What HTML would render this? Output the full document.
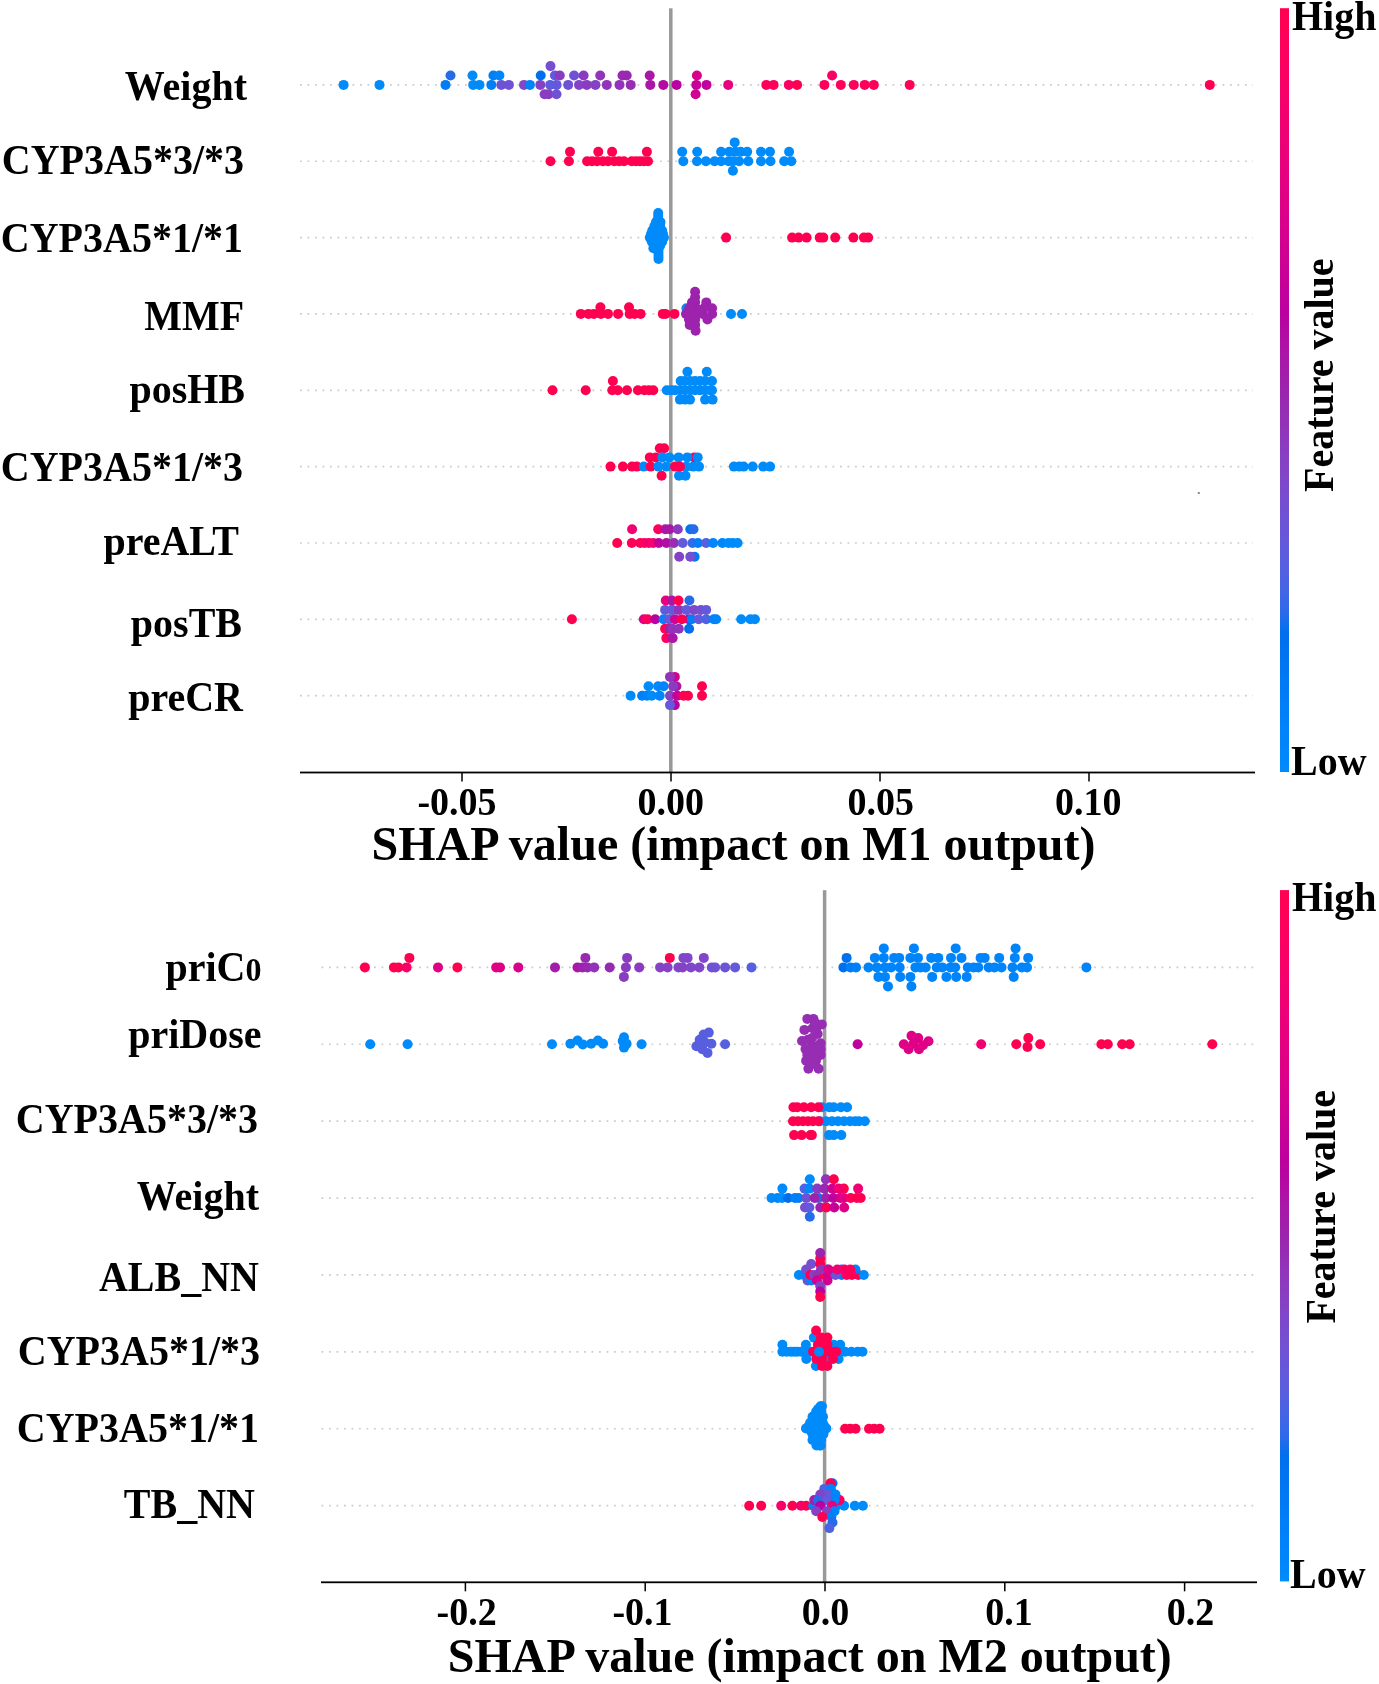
<!DOCTYPE html><html><head><meta charset="utf-8"><style>html,body{margin:0;padding:0;background:#fff;}svg{display:block;will-change:transform;}text{font-family:"Liberation Serif",serif;font-weight:bold;fill:#000;}</style></head><body>
<svg width="1379" height="1684" viewBox="0 0 1379 1684">
<defs><linearGradient id="cb" x1="0" y1="0" x2="0" y2="1"><stop offset="0.0000" stop-color="#ff0051"/><stop offset="0.0303" stop-color="#ff0058"/><stop offset="0.0606" stop-color="#fd005f"/><stop offset="0.0909" stop-color="#fa0065"/><stop offset="0.1212" stop-color="#f6006c"/><stop offset="0.1515" stop-color="#f10072"/><stop offset="0.1818" stop-color="#ec0078"/><stop offset="0.2121" stop-color="#e7007e"/><stop offset="0.2424" stop-color="#e10084"/><stop offset="0.2727" stop-color="#db008a"/><stop offset="0.3030" stop-color="#d40090"/><stop offset="0.3333" stop-color="#cd0095"/><stop offset="0.3636" stop-color="#c5009a"/><stop offset="0.3939" stop-color="#bc009f"/><stop offset="0.4242" stop-color="#b30aa3"/><stop offset="0.4545" stop-color="#aa17a7"/><stop offset="0.4848" stop-color="#a01fab"/><stop offset="0.5152" stop-color="#9829b1"/><stop offset="0.5455" stop-color="#9233b9"/><stop offset="0.5758" stop-color="#8a3cc0"/><stop offset="0.6061" stop-color="#8244c7"/><stop offset="0.6364" stop-color="#794cce"/><stop offset="0.6667" stop-color="#6f52d4"/><stop offset="0.6970" stop-color="#6459da"/><stop offset="0.7273" stop-color="#575fdf"/><stop offset="0.7576" stop-color="#4664e4"/><stop offset="0.7879" stop-color="#306ae9"/><stop offset="0.8182" stop-color="#006fed"/><stop offset="0.8485" stop-color="#0074f0"/><stop offset="0.8788" stop-color="#0079f3"/><stop offset="0.9091" stop-color="#007ef6"/><stop offset="0.9394" stop-color="#0082f8"/><stop offset="0.9697" stop-color="#0086fa"/><stop offset="1.0000" stop-color="#008bfb"/><stop offset="1" stop-color="#008bfb"/></linearGradient></defs>
<line x1="300" y1="84.9" x2="1253" y2="84.9" stroke="#cccccc" stroke-width="1.7" stroke-dasharray="1.8 5.7"/>
<line x1="300" y1="161.25" x2="1253" y2="161.25" stroke="#cccccc" stroke-width="1.7" stroke-dasharray="1.8 5.7"/>
<line x1="300" y1="237.6" x2="1253" y2="237.6" stroke="#cccccc" stroke-width="1.7" stroke-dasharray="1.8 5.7"/>
<line x1="300" y1="313.95" x2="1253" y2="313.95" stroke="#cccccc" stroke-width="1.7" stroke-dasharray="1.8 5.7"/>
<line x1="300" y1="390.29999999999995" x2="1253" y2="390.29999999999995" stroke="#cccccc" stroke-width="1.7" stroke-dasharray="1.8 5.7"/>
<line x1="300" y1="466.65" x2="1253" y2="466.65" stroke="#cccccc" stroke-width="1.7" stroke-dasharray="1.8 5.7"/>
<line x1="300" y1="543.0" x2="1253" y2="543.0" stroke="#cccccc" stroke-width="1.7" stroke-dasharray="1.8 5.7"/>
<line x1="300" y1="619.3499999999999" x2="1253" y2="619.3499999999999" stroke="#cccccc" stroke-width="1.7" stroke-dasharray="1.8 5.7"/>
<line x1="300" y1="695.6999999999999" x2="1253" y2="695.6999999999999" stroke="#cccccc" stroke-width="1.7" stroke-dasharray="1.8 5.7"/>
<rect x="669.05" y="8.3" width="3.5" height="764.2" fill="#999999"/>
<circle cx="343.6" cy="84.9" r="5" fill="#008bfb"/>
<circle cx="379.5" cy="84.9" r="5" fill="#008bfb"/>
<circle cx="445.5" cy="84.9" r="5" fill="#007cf5"/>
<circle cx="473.2" cy="84.9" r="5" fill="#008bfb"/>
<circle cx="479.5" cy="84.9" r="5" fill="#008bfb"/>
<circle cx="491.3" cy="84.9" r="5" fill="#007ff7"/>
<circle cx="501.3" cy="84.9" r="5" fill="#6f52d4"/>
<circle cx="508.9" cy="84.9" r="5" fill="#6f52d4"/>
<circle cx="524" cy="84.9" r="5" fill="#8047c9"/>
<circle cx="529.9" cy="84.9" r="5" fill="#0084f9"/>
<circle cx="540.3" cy="84.9" r="5" fill="#8542c5"/>
<circle cx="550.2" cy="84.9" r="5" fill="#5b5ddd"/>
<circle cx="556.6" cy="84.9" r="5" fill="#6459da"/>
<circle cx="568.2" cy="84.9" r="5" fill="#6f52d4"/>
<circle cx="579" cy="84.9" r="5" fill="#8542c5"/>
<circle cx="586.8" cy="84.9" r="5" fill="#8a3cc0"/>
<circle cx="595.4" cy="84.9" r="5" fill="#8542c5"/>
<circle cx="606.8" cy="84.9" r="5" fill="#9233b9"/>
<circle cx="619.5" cy="84.9" r="5" fill="#9233b9"/>
<circle cx="630.7" cy="84.9" r="5" fill="#962db3"/>
<circle cx="650.3" cy="84.9" r="5" fill="#aa17a7"/>
<circle cx="663.3" cy="84.9" r="5" fill="#b30aa3"/>
<circle cx="676.6" cy="84.9" r="5" fill="#b900a0"/>
<circle cx="696.3" cy="84.9" r="5" fill="#c70098"/>
<circle cx="706.5" cy="84.9" r="5" fill="#bf009d"/>
<circle cx="728.2" cy="84.9" r="5" fill="#e9007c"/>
<circle cx="766.3" cy="84.9" r="5" fill="#fe005c"/>
<circle cx="773.6" cy="84.9" r="5" fill="#fe005c"/>
<circle cx="788.8" cy="84.9" r="5" fill="#fb0063"/>
<circle cx="797.1" cy="84.9" r="5" fill="#ff0051"/>
<circle cx="824.4" cy="84.9" r="5" fill="#fe005c"/>
<circle cx="840.8" cy="84.9" r="5" fill="#fe005c"/>
<circle cx="853.8" cy="84.9" r="5" fill="#fe005c"/>
<circle cx="864.7" cy="84.9" r="5" fill="#fe005c"/>
<circle cx="873.8" cy="84.9" r="5" fill="#ff0058"/>
<circle cx="909.7" cy="84.9" r="5" fill="#ff0058"/>
<circle cx="1209.8" cy="84.9" r="5" fill="#ff0051"/>
<circle cx="450.5" cy="75.5" r="5" fill="#266cea"/>
<circle cx="472.5" cy="75.5" r="5" fill="#008bfb"/>
<circle cx="493.4" cy="75.5" r="5" fill="#007ff7"/>
<circle cx="499.4" cy="75.5" r="5" fill="#0086fa"/>
<circle cx="540.7" cy="75.5" r="5" fill="#006fed"/>
<circle cx="554.9" cy="75.5" r="5" fill="#6459da"/>
<circle cx="559.8" cy="75.5" r="5" fill="#8a3cc0"/>
<circle cx="574.1" cy="75.5" r="5" fill="#6f52d4"/>
<circle cx="583.6" cy="75.5" r="5" fill="#8a3cc0"/>
<circle cx="600.2" cy="75.5" r="5" fill="#9233b9"/>
<circle cx="622.5" cy="75.5" r="5" fill="#9829b1"/>
<circle cx="626.7" cy="75.5" r="5" fill="#9829b1"/>
<circle cx="649.7" cy="75.5" r="5" fill="#aa17a7"/>
<circle cx="696.9" cy="75.5" r="5" fill="#d9008c"/>
<circle cx="832.1" cy="75.5" r="5" fill="#fb0063"/>
<circle cx="550.5" cy="66.1" r="5" fill="#764ed0"/>
<circle cx="544.6" cy="94.3" r="5" fill="#8a3cc0"/>
<circle cx="548.6" cy="94.3" r="5" fill="#8a3cc0"/>
<circle cx="556.5" cy="94.3" r="5" fill="#6f52d4"/>
<circle cx="695.6" cy="94.3" r="5" fill="#cf0093"/>
<circle cx="550.5" cy="161.2" r="5" fill="#ff0051"/>
<circle cx="568.9" cy="161.2" r="5" fill="#ff0051"/>
<circle cx="587.1" cy="161.2" r="5" fill="#ff0051"/>
<circle cx="592" cy="161.2" r="5" fill="#ff0051"/>
<circle cx="597" cy="161.2" r="5" fill="#ff0051"/>
<circle cx="602.9" cy="161.2" r="5" fill="#ff0051"/>
<circle cx="608" cy="161.2" r="5" fill="#ff0051"/>
<circle cx="614.3" cy="161.2" r="5" fill="#ff0051"/>
<circle cx="619.2" cy="161.2" r="5" fill="#ff0051"/>
<circle cx="624" cy="161.2" r="5" fill="#ff0051"/>
<circle cx="631.7" cy="161.2" r="5" fill="#ff0051"/>
<circle cx="636" cy="161.2" r="5" fill="#ff0051"/>
<circle cx="640" cy="161.2" r="5" fill="#ff0051"/>
<circle cx="644" cy="161.2" r="5" fill="#ff0051"/>
<circle cx="648" cy="161.2" r="5" fill="#ff0051"/>
<circle cx="570" cy="151.8" r="5" fill="#ff0051"/>
<circle cx="598.3" cy="151.8" r="5" fill="#ff0051"/>
<circle cx="612.1" cy="151.8" r="5" fill="#ff0051"/>
<circle cx="646.9" cy="151.8" r="5" fill="#ff0051"/>
<circle cx="683.3" cy="161.2" r="5" fill="#008bfb"/>
<circle cx="697" cy="161.2" r="5" fill="#008bfb"/>
<circle cx="705.9" cy="161.2" r="5" fill="#008bfb"/>
<circle cx="714.6" cy="161.2" r="5" fill="#008bfb"/>
<circle cx="721.1" cy="161.2" r="5" fill="#008bfb"/>
<circle cx="728.7" cy="161.2" r="5" fill="#008bfb"/>
<circle cx="733" cy="161.2" r="5" fill="#008bfb"/>
<circle cx="739.1" cy="161.2" r="5" fill="#008bfb"/>
<circle cx="748.3" cy="161.2" r="5" fill="#008bfb"/>
<circle cx="761" cy="161.2" r="5" fill="#008bfb"/>
<circle cx="770.5" cy="161.2" r="5" fill="#008bfb"/>
<circle cx="784.2" cy="161.2" r="5" fill="#008bfb"/>
<circle cx="791.3" cy="161.2" r="5" fill="#008bfb"/>
<circle cx="682.2" cy="151.8" r="5" fill="#008bfb"/>
<circle cx="697.2" cy="151.8" r="5" fill="#008bfb"/>
<circle cx="721.1" cy="151.8" r="5" fill="#008bfb"/>
<circle cx="729.3" cy="151.8" r="5" fill="#008bfb"/>
<circle cx="735.3" cy="151.8" r="5" fill="#008bfb"/>
<circle cx="740.7" cy="151.8" r="5" fill="#008bfb"/>
<circle cx="747.2" cy="151.8" r="5" fill="#008bfb"/>
<circle cx="761" cy="151.8" r="5" fill="#008bfb"/>
<circle cx="770" cy="151.8" r="5" fill="#008bfb"/>
<circle cx="789.1" cy="151.8" r="5" fill="#008bfb"/>
<circle cx="734.7" cy="142.4" r="5" fill="#008bfb"/>
<circle cx="732.9" cy="170.7" r="5" fill="#008bfb"/>
<circle cx="658.2" cy="213" r="5" fill="#008bfb"/>
<circle cx="658.2" cy="216" r="5" fill="#008bfb"/>
<circle cx="658.2" cy="219" r="5" fill="#008bfb"/>
<circle cx="658.2" cy="222" r="5" fill="#008bfb"/>
<circle cx="656" cy="222" r="5" fill="#008bfb"/>
<circle cx="658.5" cy="222" r="5" fill="#008bfb"/>
<circle cx="660.5" cy="222" r="5" fill="#008bfb"/>
<circle cx="654.4" cy="226" r="5" fill="#008bfb"/>
<circle cx="656.9" cy="226" r="5" fill="#008bfb"/>
<circle cx="659.4" cy="226" r="5" fill="#008bfb"/>
<circle cx="660.1" cy="226" r="5" fill="#008bfb"/>
<circle cx="652.3" cy="230.5" r="5" fill="#008bfb"/>
<circle cx="654.8" cy="230.5" r="5" fill="#008bfb"/>
<circle cx="657.3" cy="230.5" r="5" fill="#008bfb"/>
<circle cx="659.8" cy="230.5" r="5" fill="#008bfb"/>
<circle cx="662.1" cy="230.5" r="5" fill="#008bfb"/>
<circle cx="651" cy="234" r="5" fill="#008bfb"/>
<circle cx="653.5" cy="234" r="5" fill="#008bfb"/>
<circle cx="656.0" cy="234" r="5" fill="#008bfb"/>
<circle cx="658.5" cy="234" r="5" fill="#008bfb"/>
<circle cx="661.0" cy="234" r="5" fill="#008bfb"/>
<circle cx="663" cy="234" r="5" fill="#008bfb"/>
<circle cx="649.8" cy="237.6" r="5" fill="#008bfb"/>
<circle cx="652.3" cy="237.6" r="5" fill="#008bfb"/>
<circle cx="654.8" cy="237.6" r="5" fill="#008bfb"/>
<circle cx="657.3" cy="237.6" r="5" fill="#008bfb"/>
<circle cx="659.8" cy="237.6" r="5" fill="#008bfb"/>
<circle cx="662.3" cy="237.6" r="5" fill="#008bfb"/>
<circle cx="663.9" cy="237.6" r="5" fill="#008bfb"/>
<circle cx="651.8" cy="241.7" r="5" fill="#008bfb"/>
<circle cx="654.3" cy="241.7" r="5" fill="#008bfb"/>
<circle cx="656.8" cy="241.7" r="5" fill="#008bfb"/>
<circle cx="659.3" cy="241.7" r="5" fill="#008bfb"/>
<circle cx="661.8" cy="241.7" r="5" fill="#008bfb"/>
<circle cx="662.1" cy="241.7" r="5" fill="#008bfb"/>
<circle cx="653.9" cy="245.8" r="5" fill="#008bfb"/>
<circle cx="656.4" cy="245.8" r="5" fill="#008bfb"/>
<circle cx="658.9" cy="245.8" r="5" fill="#008bfb"/>
<circle cx="660.1" cy="245.8" r="5" fill="#008bfb"/>
<circle cx="658.5" cy="250" r="5" fill="#008bfb"/>
<circle cx="658.5" cy="253" r="5" fill="#008bfb"/>
<circle cx="658.5" cy="256" r="5" fill="#008bfb"/>
<circle cx="658.5" cy="259" r="5" fill="#008bfb"/>
<circle cx="653.4" cy="248.3" r="5" fill="#008bfb"/>
<circle cx="726.1" cy="237.6" r="5" fill="#ff0051"/>
<circle cx="792.1" cy="237.6" r="5" fill="#ff0051"/>
<circle cx="798.6" cy="237.6" r="5" fill="#ff0051"/>
<circle cx="806.6" cy="237.6" r="5" fill="#ff0051"/>
<circle cx="819.7" cy="237.6" r="5" fill="#ff0051"/>
<circle cx="823.3" cy="237.6" r="5" fill="#ff0051"/>
<circle cx="835.2" cy="237.6" r="5" fill="#ff0051"/>
<circle cx="853.4" cy="237.6" r="5" fill="#ff0051"/>
<circle cx="863.9" cy="237.6" r="5" fill="#ff0051"/>
<circle cx="868.2" cy="237.6" r="5" fill="#ff0051"/>
<circle cx="580.8" cy="313.9" r="5" fill="#ff0051"/>
<circle cx="588.4" cy="313.9" r="5" fill="#ff0051"/>
<circle cx="593.8" cy="313.9" r="5" fill="#ff0051"/>
<circle cx="600.9" cy="313.9" r="5" fill="#ff0051"/>
<circle cx="608" cy="313.9" r="5" fill="#ff0051"/>
<circle cx="618.1" cy="313.9" r="5" fill="#ff0051"/>
<circle cx="629.7" cy="313.9" r="5" fill="#ff0051"/>
<circle cx="634.6" cy="313.9" r="5" fill="#ff0051"/>
<circle cx="640.6" cy="313.9" r="5" fill="#ff0051"/>
<circle cx="662.8" cy="313.9" r="5" fill="#ff0051"/>
<circle cx="665.4" cy="313.9" r="5" fill="#ff0051"/>
<circle cx="674.5" cy="313.9" r="5" fill="#ff0051"/>
<circle cx="600.4" cy="307.2" r="5" fill="#ff0051"/>
<circle cx="629" cy="307.2" r="5" fill="#ff0051"/>
<circle cx="686.4" cy="308.2" r="5" fill="#008bfb"/>
<circle cx="731" cy="314" r="5" fill="#008bfb"/>
<circle cx="742" cy="314" r="5" fill="#008bfb"/>
<circle cx="695.1" cy="291.7" r="5" fill="#9d22ac"/>
<circle cx="695.1" cy="297.3" r="5" fill="#9d22ac"/>
<circle cx="695.1" cy="302.4" r="5" fill="#9d22ac"/>
<circle cx="695.1" cy="308.2" r="5" fill="#9d22ac"/>
<circle cx="695.1" cy="314" r="5" fill="#9d22ac"/>
<circle cx="695.1" cy="319.4" r="5" fill="#9d22ac"/>
<circle cx="695.1" cy="324.9" r="5" fill="#9d22ac"/>
<circle cx="695.6" cy="330.7" r="5" fill="#9d22ac"/>
<circle cx="692" cy="302.4" r="5" fill="#9d22ac"/>
<circle cx="689.3" cy="308.2" r="5" fill="#9d22ac"/>
<circle cx="686" cy="314" r="5" fill="#9d22ac"/>
<circle cx="689" cy="319.4" r="5" fill="#9d22ac"/>
<circle cx="689.7" cy="324.9" r="5" fill="#9d22ac"/>
<circle cx="706.3" cy="302.4" r="5" fill="#9d22ac"/>
<circle cx="712.1" cy="308.2" r="5" fill="#9d22ac"/>
<circle cx="712.1" cy="314" r="5" fill="#9d22ac"/>
<circle cx="707.4" cy="319.4" r="5" fill="#9d22ac"/>
<circle cx="702.7" cy="314" r="5" fill="#9d22ac"/>
<circle cx="704" cy="308.2" r="5" fill="#9d22ac"/>
<circle cx="700" cy="310" r="5" fill="#9d22ac"/>
<circle cx="552.5" cy="390.3" r="5" fill="#ff0051"/>
<circle cx="585.7" cy="390.3" r="5" fill="#ff0051"/>
<circle cx="612.3" cy="390.3" r="5" fill="#ff0051"/>
<circle cx="617.8" cy="390.3" r="5" fill="#ff0051"/>
<circle cx="627" cy="390.3" r="5" fill="#ff0051"/>
<circle cx="637.9" cy="390.3" r="5" fill="#ff0051"/>
<circle cx="644.4" cy="390.3" r="5" fill="#ff0051"/>
<circle cx="649" cy="390.3" r="5" fill="#ff0051"/>
<circle cx="653.3" cy="390.3" r="5" fill="#ff0051"/>
<circle cx="612.9" cy="381.0" r="5" fill="#ff0051"/>
<circle cx="666.8" cy="390.3" r="5" fill="#008bfb"/>
<circle cx="671" cy="390.3" r="5" fill="#008bfb"/>
<circle cx="675" cy="390.3" r="5" fill="#008bfb"/>
<circle cx="680" cy="390.3" r="5" fill="#008bfb"/>
<circle cx="685" cy="390.3" r="5" fill="#008bfb"/>
<circle cx="690" cy="390.3" r="5" fill="#008bfb"/>
<circle cx="695" cy="390.3" r="5" fill="#008bfb"/>
<circle cx="700" cy="390.3" r="5" fill="#008bfb"/>
<circle cx="705" cy="390.3" r="5" fill="#008bfb"/>
<circle cx="710" cy="390.3" r="5" fill="#008bfb"/>
<circle cx="712" cy="390.3" r="5" fill="#008bfb"/>
<circle cx="680.7" cy="381.0" r="5" fill="#008bfb"/>
<circle cx="685" cy="381.0" r="5" fill="#008bfb"/>
<circle cx="690" cy="381.0" r="5" fill="#008bfb"/>
<circle cx="695" cy="381.0" r="5" fill="#008bfb"/>
<circle cx="700" cy="381.0" r="5" fill="#008bfb"/>
<circle cx="705" cy="381.0" r="5" fill="#008bfb"/>
<circle cx="712" cy="381.0" r="5" fill="#008bfb"/>
<circle cx="687.4" cy="371.7" r="5" fill="#008bfb"/>
<circle cx="706.8" cy="371.7" r="5" fill="#008bfb"/>
<circle cx="679.9" cy="399.6" r="5" fill="#008bfb"/>
<circle cx="685" cy="399.6" r="5" fill="#008bfb"/>
<circle cx="690" cy="399.6" r="5" fill="#008bfb"/>
<circle cx="705.1" cy="399.6" r="5" fill="#008bfb"/>
<circle cx="712.6" cy="399.6" r="5" fill="#008bfb"/>
<circle cx="694.2" cy="457.4" r="5" fill="#ff0051"/>
<circle cx="610.5" cy="466.6" r="5" fill="#ff0051"/>
<circle cx="622.9" cy="466.6" r="5" fill="#ff0051"/>
<circle cx="632" cy="466.6" r="5" fill="#ff0051"/>
<circle cx="636.8" cy="466.6" r="5" fill="#ff0051"/>
<circle cx="643.7" cy="466.6" r="5" fill="#008bfb"/>
<circle cx="650.7" cy="466.6" r="5" fill="#ff0051"/>
<circle cx="649.8" cy="457.4" r="5" fill="#ff0051"/>
<circle cx="655.9" cy="457.4" r="5" fill="#ff0051"/>
<circle cx="659.8" cy="448.2" r="5" fill="#ff0051"/>
<circle cx="664.2" cy="448.2" r="5" fill="#ff0051"/>
<circle cx="661.6" cy="475.8" r="5" fill="#ff0051"/>
<circle cx="658.5" cy="466.6" r="5" fill="#008bfb"/>
<circle cx="666.4" cy="466.6" r="5" fill="#008bfb"/>
<circle cx="686.4" cy="466.6" r="5" fill="#008bfb"/>
<circle cx="693.3" cy="466.6" r="5" fill="#008bfb"/>
<circle cx="699" cy="466.6" r="5" fill="#008bfb"/>
<circle cx="733.9" cy="466.6" r="5" fill="#008bfb"/>
<circle cx="739.3" cy="466.6" r="5" fill="#008bfb"/>
<circle cx="743.7" cy="466.6" r="5" fill="#008bfb"/>
<circle cx="752.7" cy="466.6" r="5" fill="#008bfb"/>
<circle cx="763.2" cy="466.6" r="5" fill="#008bfb"/>
<circle cx="770.1" cy="466.6" r="5" fill="#008bfb"/>
<circle cx="662.4" cy="457.4" r="5" fill="#008bfb"/>
<circle cx="669.4" cy="457.4" r="5" fill="#008bfb"/>
<circle cx="678.6" cy="457.4" r="5" fill="#008bfb"/>
<circle cx="687.3" cy="457.4" r="5" fill="#008bfb"/>
<circle cx="697.7" cy="457.4" r="5" fill="#008bfb"/>
<circle cx="679" cy="475.8" r="5" fill="#008bfb"/>
<circle cx="685.5" cy="475.8" r="5" fill="#008bfb"/>
<circle cx="675.1" cy="466.6" r="5" fill="#ff0051"/>
<circle cx="679.9" cy="466.6" r="5" fill="#ff0051"/>
<circle cx="617.2" cy="543.0" r="5" fill="#ff0051"/>
<circle cx="631.8" cy="543.0" r="5" fill="#ff0058"/>
<circle cx="640.2" cy="543.0" r="5" fill="#ff0058"/>
<circle cx="644.6" cy="543.0" r="5" fill="#fe005c"/>
<circle cx="649" cy="543.0" r="5" fill="#f10072"/>
<circle cx="653.3" cy="543.0" r="5" fill="#f80067"/>
<circle cx="658.7" cy="543.0" r="5" fill="#bf009d"/>
<circle cx="666.4" cy="543.0" r="5" fill="#b00fa5"/>
<circle cx="674" cy="543.0" r="5" fill="#962db3"/>
<circle cx="682.7" cy="543.0" r="5" fill="#6459da"/>
<circle cx="692.5" cy="543.0" r="5" fill="#3968e7"/>
<circle cx="697.9" cy="543.0" r="5" fill="#007ff7"/>
<circle cx="706.1" cy="543.0" r="5" fill="#575fdf"/>
<circle cx="713.1" cy="543.0" r="5" fill="#0086fa"/>
<circle cx="722.4" cy="543.0" r="5" fill="#0086fa"/>
<circle cx="728.4" cy="543.0" r="5" fill="#008bfb"/>
<circle cx="732.7" cy="543.0" r="5" fill="#008bfb"/>
<circle cx="737.6" cy="543.0" r="5" fill="#008bfb"/>
<circle cx="632.1" cy="529.2" r="5" fill="#f10072"/>
<circle cx="658.2" cy="529.2" r="5" fill="#fe005c"/>
<circle cx="665.3" cy="529.2" r="5" fill="#aa17a7"/>
<circle cx="669.6" cy="529.2" r="5" fill="#aa17a7"/>
<circle cx="677.8" cy="529.2" r="5" fill="#8a3cc0"/>
<circle cx="690.3" cy="529.2" r="5" fill="#0074f0"/>
<circle cx="693.5" cy="529.2" r="5" fill="#266cea"/>
<circle cx="694.6" cy="556.8" r="5" fill="#0079f3"/>
<circle cx="679.2" cy="556.8" r="5" fill="#8542c5"/>
<circle cx="690.3" cy="556.8" r="5" fill="#764ed0"/>
<circle cx="571.9" cy="619.3" r="5" fill="#ff0051"/>
<circle cx="643.8" cy="619.3" r="5" fill="#df0086"/>
<circle cx="647.6" cy="619.3" r="5" fill="#fe005c"/>
<circle cx="655.2" cy="619.3" r="5" fill="#b900a0"/>
<circle cx="663.5" cy="619.3" r="5" fill="#0084f9"/>
<circle cx="668.9" cy="619.3" r="5" fill="#6459da"/>
<circle cx="675" cy="619.3" r="5" fill="#d40090"/>
<circle cx="688.7" cy="619.3" r="5" fill="#aa17a7"/>
<circle cx="691.7" cy="619.3" r="5" fill="#007ff7"/>
<circle cx="698.6" cy="619.3" r="5" fill="#6459da"/>
<circle cx="706.2" cy="619.3" r="5" fill="#4c63e3"/>
<circle cx="713.8" cy="619.3" r="5" fill="#0084f9"/>
<circle cx="716.1" cy="619.3" r="5" fill="#0084f9"/>
<circle cx="741.2" cy="619.3" r="5" fill="#008bfb"/>
<circle cx="750.3" cy="619.3" r="5" fill="#008bfb"/>
<circle cx="754.9" cy="619.3" r="5" fill="#008bfb"/>
<circle cx="681.8" cy="619.3" r="5" fill="#ff0051"/>
<circle cx="665.1" cy="609.9" r="5" fill="#6459da"/>
<circle cx="672.7" cy="609.9" r="5" fill="#6459da"/>
<circle cx="678.8" cy="609.9" r="5" fill="#9233b9"/>
<circle cx="686.4" cy="609.9" r="5" fill="#6459da"/>
<circle cx="694" cy="609.9" r="5" fill="#8047c9"/>
<circle cx="700.9" cy="609.9" r="5" fill="#764ed0"/>
<circle cx="706.2" cy="609.9" r="5" fill="#6459da"/>
<circle cx="665.8" cy="600.5" r="5" fill="#e9007c"/>
<circle cx="671.9" cy="600.5" r="5" fill="#aa17a7"/>
<circle cx="678.5" cy="600.5" r="5" fill="#ff0051"/>
<circle cx="689.4" cy="600.5" r="5" fill="#266cea"/>
<circle cx="665.1" cy="628.7" r="5" fill="#ff0051"/>
<circle cx="669.6" cy="628.7" r="5" fill="#9d22ac"/>
<circle cx="672.7" cy="628.7" r="5" fill="#9233b9"/>
<circle cx="678.8" cy="628.7" r="5" fill="#9233b9"/>
<circle cx="689.1" cy="628.7" r="5" fill="#006fed"/>
<circle cx="666.3" cy="638.1" r="5" fill="#fe005c"/>
<circle cx="672.7" cy="638.1" r="5" fill="#aa17a7"/>
<circle cx="630.6" cy="695.7" r="5" fill="#008bfb"/>
<circle cx="642.1" cy="695.7" r="5" fill="#007ff7"/>
<circle cx="646.9" cy="695.7" r="5" fill="#0084f9"/>
<circle cx="651.7" cy="695.7" r="5" fill="#008bfb"/>
<circle cx="659.7" cy="695.7" r="5" fill="#0086fa"/>
<circle cx="648.5" cy="686.3" r="5" fill="#008bfb"/>
<circle cx="658.1" cy="686.3" r="5" fill="#0086fa"/>
<circle cx="663.7" cy="686.3" r="5" fill="#0084f9"/>
<circle cx="676.4" cy="686.3" r="5" fill="#aa17a7"/>
<circle cx="673.2" cy="686.3" r="5" fill="#8a3cc0"/>
<circle cx="674.8" cy="676.9" r="5" fill="#d40090"/>
<circle cx="670" cy="676.9" r="5" fill="#9233b9"/>
<circle cx="674.8" cy="705.1" r="5" fill="#b900a0"/>
<circle cx="670" cy="705.1" r="5" fill="#6459da"/>
<circle cx="670" cy="695.7" r="5" fill="#8542c5"/>
<circle cx="677.2" cy="695.7" r="5" fill="#c70098"/>
<circle cx="683.6" cy="695.7" r="5" fill="#ff0051"/>
<circle cx="688" cy="695.7" r="5" fill="#ff0051"/>
<circle cx="702" cy="695.7" r="5" fill="#ff0051"/>
<circle cx="702" cy="686.3" r="5" fill="#ff0051"/>
<rect x="300" y="771.6" width="955" height="1.8" fill="#000"/>
<rect x="461.25" y="772.5" width="1.5" height="9" fill="#000"/>
<rect x="670.25" y="772.5" width="1.5" height="9" fill="#000"/>
<rect x="879.25" y="772.5" width="1.5" height="9" fill="#000"/>
<rect x="1088.25" y="772.5" width="1.5" height="9" fill="#000"/>
<text x="0" y="0" font-size="38" text-anchor="middle" transform="translate(457 814.5) scale(1 1.07)">-0.05</text>
<text x="0" y="0" font-size="38" text-anchor="middle" transform="translate(670.7 814.5) scale(1 1.07)">0.00</text>
<text x="0" y="0" font-size="38" text-anchor="middle" transform="translate(880.8 814.5) scale(1 1.07)">0.05</text>
<text x="0" y="0" font-size="38" text-anchor="middle" transform="translate(1088.3 814.5) scale(1 1.07)">0.10</text>
<text x="371.5" y="860" font-size="48">SHAP value (impact on M1 output)</text>
<text x="0" y="0" font-size="40" text-anchor="end" transform="translate(247 100) scale(1 1.055)">Weight</text>
<text x="0" y="0" font-size="40" text-anchor="end" transform="translate(244 174.4) scale(1 1.055)">CYP3A5*3/*3</text>
<text x="0" y="0" font-size="40" text-anchor="end" transform="translate(243 252.2) scale(1 1.055)">CYP3A5*1/*1</text>
<text x="0" y="0" font-size="40" text-anchor="end" transform="translate(244.3 329.7) scale(1 1.055)">MMF</text>
<text x="0" y="0" font-size="40" text-anchor="end" transform="translate(245 403.2) scale(1 1.055)">posHB</text>
<text x="0" y="0" font-size="40" text-anchor="end" transform="translate(243 480.5) scale(1 1.055)">CYP3A5*1/*3</text>
<text x="0" y="0" font-size="40" text-anchor="end" transform="translate(239 555.4) scale(1 1.055)">preALT</text>
<text x="0" y="0" font-size="40" text-anchor="end" transform="translate(242 637.4) scale(1 1.055)">posTB</text>
<text x="0" y="0" font-size="40" text-anchor="end" transform="translate(243 710.9) scale(1 1.055)">preCR</text>
<rect x="1280" y="8.2" width="9" height="763.8" fill="url(#cb)"/>
<text x="0" y="0" font-size="40" transform="translate(1292 30) scale(1 1.04)">High</text>
<text x="0" y="0" font-size="40" transform="translate(1291 774.7) scale(1 1.05)">Low</text>
<text x="0" y="0" font-size="40" transform="translate(1333 492) rotate(-90) scale(1 1.06)">Feature value</text>
<line x1="321.5" y1="967.35" x2="1256" y2="967.35" stroke="#cccccc" stroke-width="1.7" stroke-dasharray="1.8 5.7"/>
<line x1="321.5" y1="1044.25" x2="1256" y2="1044.25" stroke="#cccccc" stroke-width="1.7" stroke-dasharray="1.8 5.7"/>
<line x1="321.5" y1="1121.15" x2="1256" y2="1121.15" stroke="#cccccc" stroke-width="1.7" stroke-dasharray="1.8 5.7"/>
<line x1="321.5" y1="1198.05" x2="1256" y2="1198.05" stroke="#cccccc" stroke-width="1.7" stroke-dasharray="1.8 5.7"/>
<line x1="321.5" y1="1274.95" x2="1256" y2="1274.95" stroke="#cccccc" stroke-width="1.7" stroke-dasharray="1.8 5.7"/>
<line x1="321.5" y1="1351.85" x2="1256" y2="1351.85" stroke="#cccccc" stroke-width="1.7" stroke-dasharray="1.8 5.7"/>
<line x1="321.5" y1="1428.75" x2="1256" y2="1428.75" stroke="#cccccc" stroke-width="1.7" stroke-dasharray="1.8 5.7"/>
<line x1="321.5" y1="1505.65" x2="1256" y2="1505.65" stroke="#cccccc" stroke-width="1.7" stroke-dasharray="1.8 5.7"/>
<rect x="822.85" y="890.2" width="3.5" height="692.0999999999999" fill="#999999"/>
<circle cx="364.9" cy="967.4" r="5" fill="#ff0051"/>
<circle cx="393.9" cy="967.4" r="5" fill="#ff0051"/>
<circle cx="398.4" cy="967.4" r="5" fill="#ff0051"/>
<circle cx="406.6" cy="967.4" r="5" fill="#f80067"/>
<circle cx="438" cy="967.4" r="5" fill="#df0086"/>
<circle cx="457.4" cy="967.4" r="5" fill="#ff0051"/>
<circle cx="496.2" cy="967.4" r="5" fill="#df0086"/>
<circle cx="500" cy="967.4" r="5" fill="#df0086"/>
<circle cx="518.3" cy="967.4" r="5" fill="#d9008c"/>
<circle cx="555" cy="967.4" r="5" fill="#a31daa"/>
<circle cx="577.5" cy="967.4" r="5" fill="#aa17a7"/>
<circle cx="582.5" cy="967.4" r="5" fill="#9d22ac"/>
<circle cx="587.5" cy="967.4" r="5" fill="#9829b1"/>
<circle cx="594.2" cy="967.4" r="5" fill="#9233b9"/>
<circle cx="609.7" cy="967.4" r="5" fill="#9829b1"/>
<circle cx="625.9" cy="967.4" r="5" fill="#8a3cc0"/>
<circle cx="639.2" cy="967.4" r="5" fill="#8a3cc0"/>
<circle cx="660.1" cy="967.4" r="5" fill="#8542c5"/>
<circle cx="667.6" cy="967.4" r="5" fill="#8542c5"/>
<circle cx="678.4" cy="967.4" r="5" fill="#8047c9"/>
<circle cx="682.6" cy="967.4" r="5" fill="#8542c5"/>
<circle cx="690.9" cy="967.4" r="5" fill="#8047c9"/>
<circle cx="699.3" cy="967.4" r="5" fill="#8047c9"/>
<circle cx="711.8" cy="967.4" r="5" fill="#6f52d4"/>
<circle cx="715.1" cy="967.4" r="5" fill="#6f52d4"/>
<circle cx="725.1" cy="967.4" r="5" fill="#6c54d6"/>
<circle cx="735.1" cy="967.4" r="5" fill="#6459da"/>
<circle cx="751.5" cy="967.4" r="5" fill="#575fdf"/>
<circle cx="843.4" cy="967.4" r="5" fill="#006fed"/>
<circle cx="850.5" cy="967.4" r="5" fill="#007cf5"/>
<circle cx="856" cy="967.4" r="5" fill="#007ff7"/>
<circle cx="868.5" cy="967.4" r="5" fill="#0084f9"/>
<circle cx="876.9" cy="967.4" r="5" fill="#0084f9"/>
<circle cx="885" cy="967.4" r="5" fill="#0084f9"/>
<circle cx="891.1" cy="967.4" r="5" fill="#0084f9"/>
<circle cx="899.7" cy="967.4" r="5" fill="#0084f9"/>
<circle cx="915.4" cy="967.4" r="5" fill="#0084f9"/>
<circle cx="920.5" cy="967.4" r="5" fill="#0084f9"/>
<circle cx="925.6" cy="967.4" r="5" fill="#0084f9"/>
<circle cx="936.8" cy="967.4" r="5" fill="#0084f9"/>
<circle cx="942.3" cy="967.4" r="5" fill="#0084f9"/>
<circle cx="950.4" cy="967.4" r="5" fill="#0084f9"/>
<circle cx="955.1" cy="967.4" r="5" fill="#0084f9"/>
<circle cx="967.8" cy="967.4" r="5" fill="#0084f9"/>
<circle cx="973.6" cy="967.4" r="5" fill="#0084f9"/>
<circle cx="978.3" cy="967.4" r="5" fill="#0084f9"/>
<circle cx="988.7" cy="967.4" r="5" fill="#0084f9"/>
<circle cx="994.5" cy="967.4" r="5" fill="#0084f9"/>
<circle cx="1001.5" cy="967.4" r="5" fill="#0084f9"/>
<circle cx="1012.5" cy="967.4" r="5" fill="#0084f9"/>
<circle cx="1021.8" cy="967.4" r="5" fill="#0084f9"/>
<circle cx="1027" cy="967.4" r="5" fill="#0084f9"/>
<circle cx="1086.4" cy="967.4" r="5" fill="#0084f9"/>
<circle cx="409.4" cy="957.9" r="5" fill="#ff0051"/>
<circle cx="585.4" cy="957.9" r="5" fill="#9829b1"/>
<circle cx="627.1" cy="957.9" r="5" fill="#8a3cc0"/>
<circle cx="669.8" cy="957.9" r="5" fill="#ff0051"/>
<circle cx="683.4" cy="957.9" r="5" fill="#8047c9"/>
<circle cx="687.6" cy="957.9" r="5" fill="#8047c9"/>
<circle cx="703.8" cy="957.9" r="5" fill="#8047c9"/>
<circle cx="846.6" cy="957.9" r="5" fill="#0071ee"/>
<circle cx="874.8" cy="957.9" r="5" fill="#0084f9"/>
<circle cx="883.8" cy="957.9" r="5" fill="#0084f9"/>
<circle cx="894.1" cy="957.9" r="5" fill="#0084f9"/>
<circle cx="899.2" cy="957.9" r="5" fill="#0084f9"/>
<circle cx="910.4" cy="957.9" r="5" fill="#0084f9"/>
<circle cx="918" cy="957.9" r="5" fill="#0084f9"/>
<circle cx="931.2" cy="957.9" r="5" fill="#0084f9"/>
<circle cx="938.3" cy="957.9" r="5" fill="#0084f9"/>
<circle cx="951" cy="957.9" r="5" fill="#0084f9"/>
<circle cx="961.5" cy="957.9" r="5" fill="#0084f9"/>
<circle cx="980.6" cy="957.9" r="5" fill="#0084f9"/>
<circle cx="984.7" cy="957.9" r="5" fill="#0084f9"/>
<circle cx="999.2" cy="957.9" r="5" fill="#0084f9"/>
<circle cx="1014.8" cy="957.9" r="5" fill="#0084f9"/>
<circle cx="1028.2" cy="957.9" r="5" fill="#0084f9"/>
<circle cx="883.8" cy="948.4" r="5" fill="#0084f9"/>
<circle cx="913.9" cy="948.4" r="5" fill="#0084f9"/>
<circle cx="955.7" cy="948.4" r="5" fill="#0084f9"/>
<circle cx="1015.6" cy="948.4" r="5" fill="#0084f9"/>
<circle cx="623.9" cy="976.9" r="5" fill="#8a3cc0"/>
<circle cx="878.4" cy="976.9" r="5" fill="#0084f9"/>
<circle cx="885" cy="976.9" r="5" fill="#0084f9"/>
<circle cx="900.2" cy="976.9" r="5" fill="#0084f9"/>
<circle cx="910.4" cy="976.9" r="5" fill="#0084f9"/>
<circle cx="932.2" cy="976.9" r="5" fill="#0084f9"/>
<circle cx="946.4" cy="976.9" r="5" fill="#0084f9"/>
<circle cx="956.2" cy="976.9" r="5" fill="#0084f9"/>
<circle cx="966.7" cy="976.9" r="5" fill="#0084f9"/>
<circle cx="1013.7" cy="976.9" r="5" fill="#0084f9"/>
<circle cx="888" cy="986.4" r="5" fill="#0084f9"/>
<circle cx="911.4" cy="986.4" r="5" fill="#0084f9"/>
<circle cx="370.2" cy="1044.2" r="5" fill="#008bfb"/>
<circle cx="407.6" cy="1044.2" r="5" fill="#008bfb"/>
<circle cx="552" cy="1044.2" r="5" fill="#008bfb"/>
<circle cx="570.4" cy="1043.7" r="5" fill="#008bfb"/>
<circle cx="577.6" cy="1040.5" r="5" fill="#008bfb"/>
<circle cx="582.8" cy="1044.4" r="5" fill="#008bfb"/>
<circle cx="591.1" cy="1043.7" r="5" fill="#008bfb"/>
<circle cx="597.9" cy="1040.5" r="5" fill="#008bfb"/>
<circle cx="603.1" cy="1043.7" r="5" fill="#008bfb"/>
<circle cx="624" cy="1037.2" r="5" fill="#008bfb"/>
<circle cx="622.7" cy="1041.1" r="5" fill="#008bfb"/>
<circle cx="626.6" cy="1043.7" r="5" fill="#008bfb"/>
<circle cx="624" cy="1047.6" r="5" fill="#008bfb"/>
<circle cx="641.6" cy="1044.2" r="5" fill="#008bfb"/>
<circle cx="708.8" cy="1032.6" r="5" fill="#575fdf"/>
<circle cx="703.6" cy="1034.6" r="5" fill="#575fdf"/>
<circle cx="699.7" cy="1039.8" r="5" fill="#575fdf"/>
<circle cx="696.4" cy="1046.3" r="5" fill="#575fdf"/>
<circle cx="711.4" cy="1043.7" r="5" fill="#575fdf"/>
<circle cx="707.5" cy="1052.9" r="5" fill="#575fdf"/>
<circle cx="702.3" cy="1049.2" r="5" fill="#575fdf"/>
<circle cx="704.9" cy="1042.4" r="5" fill="#575fdf"/>
<circle cx="725.1" cy="1044.2" r="5" fill="#575fdf"/>
<circle cx="807.3" cy="1018.9" r="5" fill="#962db3"/>
<circle cx="813.4" cy="1018.9" r="5" fill="#962db3"/>
<circle cx="821.8" cy="1024.4" r="5" fill="#962db3"/>
<circle cx="804.4" cy="1029.9" r="5" fill="#962db3"/>
<circle cx="812.5" cy="1028.2" r="5" fill="#962db3"/>
<circle cx="817.7" cy="1034" r="5" fill="#962db3"/>
<circle cx="802" cy="1041" r="5" fill="#962db3"/>
<circle cx="807.8" cy="1039.8" r="5" fill="#962db3"/>
<circle cx="820.6" cy="1043.3" r="5" fill="#962db3"/>
<circle cx="805.5" cy="1049.1" r="5" fill="#962db3"/>
<circle cx="820.6" cy="1049.1" r="5" fill="#962db3"/>
<circle cx="820.6" cy="1054.9" r="5" fill="#962db3"/>
<circle cx="807.3" cy="1054.9" r="5" fill="#962db3"/>
<circle cx="806.1" cy="1060.7" r="5" fill="#962db3"/>
<circle cx="816" cy="1060.7" r="5" fill="#962db3"/>
<circle cx="808.4" cy="1068.8" r="5" fill="#962db3"/>
<circle cx="818.6" cy="1068.8" r="5" fill="#962db3"/>
<circle cx="812.5" cy="1045.6" r="5" fill="#962db3"/>
<circle cx="812.5" cy="1052.6" r="5" fill="#962db3"/>
<circle cx="814.8" cy="1022.4" r="5" fill="#962db3"/>
<circle cx="812" cy="1038" r="5" fill="#962db3"/>
<circle cx="816" cy="1030" r="5" fill="#962db3"/>
<circle cx="814" cy="1058" r="5" fill="#962db3"/>
<circle cx="812" cy="1064" r="5" fill="#962db3"/>
<circle cx="817" cy="1047" r="5" fill="#962db3"/>
<circle cx="857.6" cy="1044.2" r="5" fill="#bf009d"/>
<circle cx="903.8" cy="1044.2" r="5" fill="#df0086"/>
<circle cx="911.5" cy="1035.7" r="5" fill="#df0086"/>
<circle cx="918.2" cy="1038.1" r="5" fill="#df0086"/>
<circle cx="908.6" cy="1049.3" r="5" fill="#df0086"/>
<circle cx="919" cy="1049.3" r="5" fill="#df0086"/>
<circle cx="928.5" cy="1041.3" r="5" fill="#df0086"/>
<circle cx="923" cy="1045.3" r="5" fill="#df0086"/>
<circle cx="913.4" cy="1043.7" r="5" fill="#df0086"/>
<circle cx="981.2" cy="1044.2" r="5" fill="#f10072"/>
<circle cx="1016.3" cy="1044.2" r="5" fill="#ff0051"/>
<circle cx="1028.3" cy="1038.1" r="5" fill="#ff0051"/>
<circle cx="1027.5" cy="1046.9" r="5" fill="#ff0051"/>
<circle cx="1040.2" cy="1044.2" r="5" fill="#ff0051"/>
<circle cx="1101.4" cy="1044.2" r="5" fill="#ff0051"/>
<circle cx="1107.8" cy="1044.2" r="5" fill="#ff0051"/>
<circle cx="1122.2" cy="1044.2" r="5" fill="#ff0051"/>
<circle cx="1129.7" cy="1044.2" r="5" fill="#ff0051"/>
<circle cx="1212.3" cy="1044.2" r="5" fill="#ff0051"/>
<circle cx="820" cy="1121.2" r="5" fill="#008bfb"/>
<circle cx="826" cy="1121.2" r="5" fill="#008bfb"/>
<circle cx="832" cy="1121.2" r="5" fill="#008bfb"/>
<circle cx="838" cy="1121.2" r="5" fill="#008bfb"/>
<circle cx="844" cy="1121.2" r="5" fill="#008bfb"/>
<circle cx="850" cy="1121.2" r="5" fill="#008bfb"/>
<circle cx="855" cy="1121.2" r="5" fill="#008bfb"/>
<circle cx="859" cy="1121.2" r="5" fill="#008bfb"/>
<circle cx="864.8" cy="1121.2" r="5" fill="#008bfb"/>
<circle cx="822" cy="1107.2" r="5" fill="#008bfb"/>
<circle cx="829.3" cy="1107.2" r="5" fill="#008bfb"/>
<circle cx="833.7" cy="1107.2" r="5" fill="#008bfb"/>
<circle cx="840.9" cy="1107.2" r="5" fill="#008bfb"/>
<circle cx="847.1" cy="1107.2" r="5" fill="#008bfb"/>
<circle cx="829" cy="1135.1" r="5" fill="#008bfb"/>
<circle cx="833.7" cy="1135.1" r="5" fill="#008bfb"/>
<circle cx="841.3" cy="1135.1" r="5" fill="#008bfb"/>
<circle cx="793" cy="1121.2" r="5" fill="#ff0051"/>
<circle cx="798" cy="1121.2" r="5" fill="#ff0051"/>
<circle cx="803" cy="1121.2" r="5" fill="#ff0051"/>
<circle cx="808" cy="1121.2" r="5" fill="#ff0051"/>
<circle cx="813" cy="1121.2" r="5" fill="#ff0051"/>
<circle cx="818.4" cy="1121.2" r="5" fill="#ff0051"/>
<circle cx="793.4" cy="1107.2" r="5" fill="#ff0051"/>
<circle cx="797.4" cy="1107.2" r="5" fill="#ff0051"/>
<circle cx="803.9" cy="1107.2" r="5" fill="#ff0051"/>
<circle cx="811.2" cy="1107.2" r="5" fill="#ff0051"/>
<circle cx="818.4" cy="1107.2" r="5" fill="#ff0051"/>
<circle cx="794.1" cy="1135.1" r="5" fill="#ff0051"/>
<circle cx="801.6" cy="1135.1" r="5" fill="#ff0051"/>
<circle cx="810.5" cy="1135.1" r="5" fill="#ff0051"/>
<circle cx="811.9" cy="1135.1" r="5" fill="#ff0051"/>
<circle cx="771.5" cy="1198.0" r="5" fill="#008bfb"/>
<circle cx="777.6" cy="1198.0" r="5" fill="#0088fa"/>
<circle cx="782" cy="1198.0" r="5" fill="#008bfb"/>
<circle cx="788.1" cy="1198.0" r="5" fill="#006fed"/>
<circle cx="795" cy="1198.0" r="5" fill="#007ff7"/>
<circle cx="798.5" cy="1198.0" r="5" fill="#007ff7"/>
<circle cx="818.5" cy="1198.0" r="5" fill="#266cea"/>
<circle cx="806.3" cy="1198.0" r="5" fill="#6f52d4"/>
<circle cx="814.6" cy="1198.0" r="5" fill="#9d22ac"/>
<circle cx="825.9" cy="1198.0" r="5" fill="#9d22ac"/>
<circle cx="833.3" cy="1198.0" r="5" fill="#bf009d"/>
<circle cx="840.3" cy="1198.0" r="5" fill="#d40090"/>
<circle cx="843.8" cy="1198.0" r="5" fill="#df0086"/>
<circle cx="850.7" cy="1198.0" r="5" fill="#fe005c"/>
<circle cx="856.8" cy="1198.0" r="5" fill="#ff0051"/>
<circle cx="860.7" cy="1198.0" r="5" fill="#ff0051"/>
<circle cx="782.4" cy="1188.6" r="5" fill="#008bfb"/>
<circle cx="804.6" cy="1188.6" r="5" fill="#4c63e3"/>
<circle cx="809.4" cy="1188.6" r="5" fill="#0088fa"/>
<circle cx="843.8" cy="1188.6" r="5" fill="#ff0051"/>
<circle cx="817.2" cy="1188.6" r="5" fill="#8a3cc0"/>
<circle cx="824.6" cy="1188.6" r="5" fill="#9829b1"/>
<circle cx="832.5" cy="1188.6" r="5" fill="#cf0093"/>
<circle cx="838.6" cy="1188.6" r="5" fill="#f10072"/>
<circle cx="858.1" cy="1188.6" r="5" fill="#f10072"/>
<circle cx="809.8" cy="1179.2" r="5" fill="#008bfb"/>
<circle cx="825.9" cy="1179.2" r="5" fill="#9233b9"/>
<circle cx="833.8" cy="1179.2" r="5" fill="#ff0051"/>
<circle cx="805" cy="1207.5" r="5" fill="#764ed0"/>
<circle cx="809.4" cy="1207.5" r="5" fill="#6459da"/>
<circle cx="820.3" cy="1207.5" r="5" fill="#9d22ac"/>
<circle cx="826.4" cy="1207.5" r="5" fill="#ff0051"/>
<circle cx="834.2" cy="1207.5" r="5" fill="#c70098"/>
<circle cx="844.2" cy="1207.5" r="5" fill="#df0086"/>
<circle cx="809.8" cy="1216.8" r="5" fill="#266cea"/>
<circle cx="798.9" cy="1275.0" r="5" fill="#008bfb"/>
<circle cx="803.9" cy="1275.0" r="5" fill="#0086fa"/>
<circle cx="807.5" cy="1275.0" r="5" fill="#0086fa"/>
<circle cx="841.6" cy="1275.0" r="5" fill="#0084f9"/>
<circle cx="858.3" cy="1275.0" r="5" fill="#ff0051"/>
<circle cx="863.8" cy="1275.0" r="5" fill="#008bfb"/>
<circle cx="807.6" cy="1280.5" r="5" fill="#6f52d4"/>
<circle cx="811.2" cy="1280.5" r="5" fill="#0086fa"/>
<circle cx="806.1" cy="1269.5" r="5" fill="#764ed0"/>
<circle cx="827.1" cy="1269.5" r="5" fill="#0084f9"/>
<circle cx="841.6" cy="1269.5" r="5" fill="#0084f9"/>
<circle cx="855.4" cy="1269.5" r="5" fill="#0084f9"/>
<circle cx="811.2" cy="1264.0" r="5" fill="#764ed0"/>
<circle cx="820.2" cy="1264.0" r="5" fill="#ff0051"/>
<circle cx="820.2" cy="1258.5" r="5" fill="#ff0051"/>
<circle cx="820.2" cy="1253.0" r="5" fill="#9d22ac"/>
<circle cx="810.5" cy="1275.0" r="5" fill="#ff0051"/>
<circle cx="814.1" cy="1275.0" r="5" fill="#8542c5"/>
<circle cx="817.7" cy="1275.0" r="5" fill="#9233b9"/>
<circle cx="824.2" cy="1275.0" r="5" fill="#ff0051"/>
<circle cx="827.9" cy="1275.0" r="5" fill="#d40090"/>
<circle cx="835.5" cy="1275.0" r="5" fill="#6c54d6"/>
<circle cx="846.7" cy="1275.0" r="5" fill="#fe005c"/>
<circle cx="851.8" cy="1275.0" r="5" fill="#ff0051"/>
<circle cx="821" cy="1269.5" r="5" fill="#9233b9"/>
<circle cx="828.6" cy="1269.5" r="5" fill="#df0086"/>
<circle cx="837.3" cy="1269.5" r="5" fill="#f10072"/>
<circle cx="844.5" cy="1269.5" r="5" fill="#f80067"/>
<circle cx="850.3" cy="1269.5" r="5" fill="#fe005c"/>
<circle cx="817" cy="1280.5" r="5" fill="#d40090"/>
<circle cx="827.5" cy="1280.5" r="5" fill="#d40090"/>
<circle cx="820.2" cy="1286.0" r="5" fill="#8542c5"/>
<circle cx="820.2" cy="1291.5" r="5" fill="#b900a0"/>
<circle cx="820.2" cy="1297.0" r="5" fill="#ff0051"/>
<circle cx="782.4" cy="1351.8" r="5" fill="#008bfb"/>
<circle cx="786.5" cy="1351.8" r="5" fill="#008bfb"/>
<circle cx="790.7" cy="1351.8" r="5" fill="#008bfb"/>
<circle cx="794" cy="1351.8" r="5" fill="#008bfb"/>
<circle cx="797.1" cy="1351.8" r="5" fill="#008bfb"/>
<circle cx="801" cy="1351.8" r="5" fill="#008bfb"/>
<circle cx="805.1" cy="1351.8" r="5" fill="#008bfb"/>
<circle cx="809" cy="1351.8" r="5" fill="#008bfb"/>
<circle cx="819.1" cy="1351.8" r="5" fill="#008bfb"/>
<circle cx="840" cy="1351.8" r="5" fill="#008bfb"/>
<circle cx="845" cy="1351.8" r="5" fill="#008bfb"/>
<circle cx="851.4" cy="1351.8" r="5" fill="#008bfb"/>
<circle cx="857.7" cy="1351.8" r="5" fill="#008bfb"/>
<circle cx="862.5" cy="1351.8" r="5" fill="#008bfb"/>
<circle cx="782.4" cy="1344.8" r="5" fill="#008bfb"/>
<circle cx="805.9" cy="1344.8" r="5" fill="#008bfb"/>
<circle cx="833.8" cy="1344.8" r="5" fill="#008bfb"/>
<circle cx="840.2" cy="1344.8" r="5" fill="#008bfb"/>
<circle cx="813.9" cy="1337.6" r="5" fill="#008bfb"/>
<circle cx="806.3" cy="1358.9" r="5" fill="#008bfb"/>
<circle cx="830.6" cy="1358.9" r="5" fill="#008bfb"/>
<circle cx="838.6" cy="1358.9" r="5" fill="#008bfb"/>
<circle cx="815.9" cy="1366.0" r="5" fill="#008bfb"/>
<circle cx="813.1" cy="1351.8" r="5" fill="#ff0051"/>
<circle cx="825.8" cy="1351.8" r="5" fill="#ff0051"/>
<circle cx="831" cy="1351.8" r="5" fill="#ff0051"/>
<circle cx="836.2" cy="1351.8" r="5" fill="#ff0051"/>
<circle cx="817.9" cy="1344.8" r="5" fill="#ff0051"/>
<circle cx="822" cy="1344.8" r="5" fill="#ff0051"/>
<circle cx="827.4" cy="1344.8" r="5" fill="#ff0051"/>
<circle cx="827.4" cy="1337.6" r="5" fill="#ff0051"/>
<circle cx="821" cy="1337.6" r="5" fill="#ff0051"/>
<circle cx="816.1" cy="1330.5" r="5" fill="#ff0051"/>
<circle cx="816.3" cy="1358.9" r="5" fill="#ff0051"/>
<circle cx="822" cy="1358.9" r="5" fill="#ff0051"/>
<circle cx="833" cy="1358.9" r="5" fill="#ff0051"/>
<circle cx="827.4" cy="1366.0" r="5" fill="#ff0051"/>
<circle cx="822" cy="1366.0" r="5" fill="#ff0051"/>
<circle cx="819.1" cy="1351.8" r="5" fill="#008bfb"/>
<circle cx="820.5" cy="1406.2" r="5" fill="#008bfb"/>
<circle cx="821.9" cy="1406.2" r="5" fill="#008bfb"/>
<circle cx="816.1" cy="1411.7" r="5" fill="#008bfb"/>
<circle cx="819.1" cy="1411.7" r="5" fill="#008bfb"/>
<circle cx="821.2" cy="1411.7" r="5" fill="#008bfb"/>
<circle cx="812.5" cy="1416.8" r="5" fill="#008bfb"/>
<circle cx="815.5" cy="1416.8" r="5" fill="#008bfb"/>
<circle cx="818.5" cy="1416.8" r="5" fill="#008bfb"/>
<circle cx="821.5" cy="1416.8" r="5" fill="#008bfb"/>
<circle cx="823" cy="1416.8" r="5" fill="#008bfb"/>
<circle cx="810.3" cy="1422.6" r="5" fill="#008bfb"/>
<circle cx="813.3" cy="1422.6" r="5" fill="#008bfb"/>
<circle cx="816.3" cy="1422.6" r="5" fill="#008bfb"/>
<circle cx="819.3" cy="1422.6" r="5" fill="#008bfb"/>
<circle cx="822.3" cy="1422.6" r="5" fill="#008bfb"/>
<circle cx="822.6" cy="1422.6" r="5" fill="#008bfb"/>
<circle cx="806" cy="1428.4" r="5" fill="#008bfb"/>
<circle cx="809" cy="1428.4" r="5" fill="#008bfb"/>
<circle cx="812" cy="1428.4" r="5" fill="#008bfb"/>
<circle cx="815" cy="1428.4" r="5" fill="#008bfb"/>
<circle cx="818" cy="1428.4" r="5" fill="#008bfb"/>
<circle cx="821" cy="1428.4" r="5" fill="#008bfb"/>
<circle cx="824" cy="1428.4" r="5" fill="#008bfb"/>
<circle cx="826.3" cy="1428.4" r="5" fill="#008bfb"/>
<circle cx="812.5" cy="1434.2" r="5" fill="#008bfb"/>
<circle cx="815.5" cy="1434.2" r="5" fill="#008bfb"/>
<circle cx="818.5" cy="1434.2" r="5" fill="#008bfb"/>
<circle cx="821.5" cy="1434.2" r="5" fill="#008bfb"/>
<circle cx="823.4" cy="1434.2" r="5" fill="#008bfb"/>
<circle cx="812.5" cy="1440" r="5" fill="#008bfb"/>
<circle cx="815.5" cy="1440" r="5" fill="#008bfb"/>
<circle cx="818.5" cy="1440" r="5" fill="#008bfb"/>
<circle cx="821.2" cy="1440" r="5" fill="#008bfb"/>
<circle cx="816.5" cy="1445.4" r="5" fill="#008bfb"/>
<circle cx="819.5" cy="1445.4" r="5" fill="#008bfb"/>
<circle cx="820.8" cy="1445.4" r="5" fill="#008bfb"/>
<circle cx="818" cy="1409" r="5" fill="#008bfb"/>
<circle cx="818" cy="1414" r="5" fill="#008bfb"/>
<circle cx="818" cy="1419.5" r="5" fill="#008bfb"/>
<circle cx="818" cy="1425.5" r="5" fill="#008bfb"/>
<circle cx="818" cy="1431" r="5" fill="#008bfb"/>
<circle cx="818" cy="1437" r="5" fill="#008bfb"/>
<circle cx="818" cy="1442.7" r="5" fill="#008bfb"/>
<circle cx="809" cy="1425.5" r="5" fill="#008bfb"/>
<circle cx="811" cy="1431" r="5" fill="#008bfb"/>
<circle cx="824" cy="1431" r="5" fill="#008bfb"/>
<circle cx="824" cy="1425.5" r="5" fill="#008bfb"/>
<circle cx="845.1" cy="1428.8" r="5" fill="#ff0051"/>
<circle cx="850.2" cy="1428.8" r="5" fill="#ff0051"/>
<circle cx="855.6" cy="1428.8" r="5" fill="#ff0051"/>
<circle cx="869" cy="1428.8" r="5" fill="#ff0051"/>
<circle cx="874.1" cy="1428.8" r="5" fill="#ff0051"/>
<circle cx="879.6" cy="1428.8" r="5" fill="#ff0051"/>
<circle cx="749.2" cy="1505.7" r="5" fill="#ff0051"/>
<circle cx="761.2" cy="1505.7" r="5" fill="#ff0051"/>
<circle cx="781.2" cy="1505.7" r="5" fill="#f80067"/>
<circle cx="792.4" cy="1505.7" r="5" fill="#ff0051"/>
<circle cx="801" cy="1505.7" r="5" fill="#f10072"/>
<circle cx="806.1" cy="1505.7" r="5" fill="#ff0051"/>
<circle cx="813.2" cy="1505.7" r="5" fill="#0084f9"/>
<circle cx="836.5" cy="1505.7" r="5" fill="#0084f9"/>
<circle cx="844.1" cy="1505.7" r="5" fill="#008bfb"/>
<circle cx="854.8" cy="1505.7" r="5" fill="#008bfb"/>
<circle cx="862.9" cy="1505.7" r="5" fill="#008bfb"/>
<circle cx="832.5" cy="1483.2" r="5" fill="#0074f0"/>
<circle cx="830.4" cy="1483.2" r="5" fill="#ff0051"/>
<circle cx="824.3" cy="1488.9" r="5" fill="#4c63e3"/>
<circle cx="830.9" cy="1488.9" r="5" fill="#0084f9"/>
<circle cx="839.6" cy="1500.1" r="5" fill="#fe005c"/>
<circle cx="834.5" cy="1500.1" r="5" fill="#0084f9"/>
<circle cx="828" cy="1494.5" r="5" fill="#6459da"/>
<circle cx="820.3" cy="1494.5" r="5" fill="#8542c5"/>
<circle cx="835.5" cy="1494.5" r="5" fill="#0084f9"/>
<circle cx="814.2" cy="1500.1" r="5" fill="#9d22ac"/>
<circle cx="818.2" cy="1500.1" r="5" fill="#266cea"/>
<circle cx="826.4" cy="1500.1" r="5" fill="#6459da"/>
<circle cx="820.3" cy="1505.7" r="5" fill="#b900a0"/>
<circle cx="832" cy="1505.7" r="5" fill="#e9007c"/>
<circle cx="834.5" cy="1511.2" r="5" fill="#0084f9"/>
<circle cx="816.2" cy="1511.2" r="5" fill="#8542c5"/>
<circle cx="826.9" cy="1511.2" r="5" fill="#8542c5"/>
<circle cx="831.4" cy="1516.9" r="5" fill="#007ff7"/>
<circle cx="822.3" cy="1516.9" r="5" fill="#ff0051"/>
<circle cx="832.5" cy="1522.5" r="5" fill="#266cea"/>
<circle cx="829.4" cy="1528.1" r="5" fill="#4c63e3"/>
<rect x="321" y="1581.3999999999999" width="936" height="1.8" fill="#000"/>
<rect x="464.65" y="1582.3" width="1.5" height="9" fill="#000"/>
<rect x="644.45" y="1582.3" width="1.5" height="9" fill="#000"/>
<rect x="824.25" y="1582.3" width="1.5" height="9" fill="#000"/>
<rect x="1004.05" y="1582.3" width="1.5" height="9" fill="#000"/>
<rect x="1183.85" y="1582.3" width="1.5" height="9" fill="#000"/>
<text x="0" y="0" font-size="38" text-anchor="middle" transform="translate(466.6 1624.6) scale(1 1.07)">-0.2</text>
<text x="0" y="0" font-size="38" text-anchor="middle" transform="translate(642.5 1624.6) scale(1 1.07)">-0.1</text>
<text x="0" y="0" font-size="38" text-anchor="middle" transform="translate(825.4 1624.6) scale(1 1.07)">0.0</text>
<text x="0" y="0" font-size="38" text-anchor="middle" transform="translate(1009.1 1624.6) scale(1 1.07)">0.1</text>
<text x="0" y="0" font-size="38" text-anchor="middle" transform="translate(1190.6 1624.6) scale(1 1.07)">0.2</text>
<text x="447.8" y="1671.5" font-size="48">SHAP value (impact on M2 output)</text>
<text x="0" y="0" font-size="40" text-anchor="end" transform="translate(261.5 981.1) scale(1 1.055)">priC<tspan font-size="32">0</tspan></text>
<text x="0" y="0" font-size="40" text-anchor="end" transform="translate(261.5 1047.7) scale(1 1.055)">priDose</text>
<text x="0" y="0" font-size="40" text-anchor="end" transform="translate(258 1133) scale(1 1.055)">CYP3A5*3/*3</text>
<text x="0" y="0" font-size="40" text-anchor="end" transform="translate(259 1210.2) scale(1 1.055)">Weight</text>
<text x="0" y="0" font-size="40" text-anchor="end" transform="translate(259 1290.8) scale(1 1.055)">ALB_NN</text>
<text x="0" y="0" font-size="40" text-anchor="end" transform="translate(260 1364.9) scale(1 1.055)">CYP3A5*1/*3</text>
<text x="0" y="0" font-size="40" text-anchor="end" transform="translate(259 1442) scale(1 1.055)">CYP3A5*1/*1</text>
<text x="0" y="0" font-size="40" text-anchor="end" transform="translate(255 1518.2) scale(1 1.055)">TB_NN</text>
<rect x="1280" y="890.1" width="9" height="691.3000000000001" fill="url(#cb)"/>
<text x="0" y="0" font-size="40" transform="translate(1292 911.4) scale(1 1.04)">High</text>
<text x="0" y="0" font-size="40" transform="translate(1290 1588.3) scale(1 1.05)">Low</text>
<text x="0" y="0" font-size="40" transform="translate(1335 1323.6) rotate(-90) scale(1 1.06)">Feature value</text>
<rect x="1197.8" y="492" width="2" height="2" fill="#8c8c8c"/>
</svg></body></html>
